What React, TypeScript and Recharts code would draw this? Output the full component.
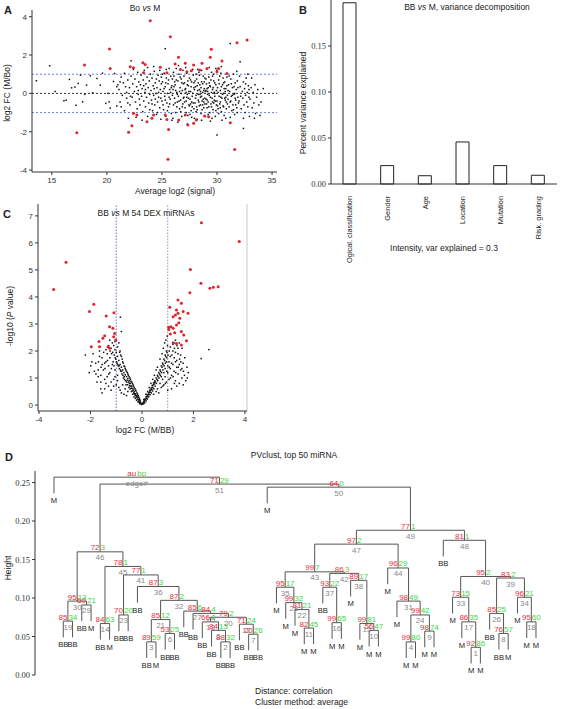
import React from "react";
import {
  ScatterChart, Scatter, XAxis, YAxis, ReferenceLine, BarChart, Bar,
} from "recharts";

// ---------- panel A: MA plot, Bo vs M ----------
const maBlack = [
  13.6, 0.66, 14.8, 1.44, 16.1, -0.38, 16.3, -0.35, 16.6, 0.73, 16.8, 0.29, 17.1, 0.33, 17.4, 0.52,
  17.6, 0.95, 17.8, -0.44, 18.0, -0.05, 18.15, 0.43, 18.5, 0.92, 18.7, 0.03, 19.1, 0.78, 19.4, 0.43,
  19.6, 1.05, 19.9, -0.52, 20.1, 0.0, 20.2, -0.44, 20.3, -0.77, 20.6, 0.62, 20.7, 1.04, 20.9, 0.35,
  20.9, -0.66, 21.0, 0.45, 17.2, -0.62, 15.3, 0.1,
  21.1, 0.2, 21.2, -0.45, 21.3, 0.85, 21.4, -0.1, 21.5, 0.55, 21.6, -0.9, 21.7, 0.35, 21.8, -0.25,
  21.9, 0.7, 21.95, -1.3, 21.3, -0.7, 21.6, 1.05, 21.8, 0.05, 21.2, 0.6, 21.9, -0.5,
  22.05, 0.3, 22.1, -0.6, 22.2, 1.7, 22.2, 0.9, 22.3, -0.2, 22.35, 0.5, 22.4, -1.05, 22.5, 0.1,
  22.55, 0.75, 22.6, -0.45, 22.7, 0.35, 22.75, -0.8, 22.8, 1.1, 22.85, -0.05, 22.9, 0.6, 22.95, -0.3,
  22.4, 1.25, 22.65, -1.25, 22.15, -0.15, 22.85, 0.15,
  23.0, -0.6, 23.05, 0.45, 23.1, 0.95, 23.15, -0.15, 23.2, 0.25, 23.25, -0.95, 23.3, 0.7, 23.35, -0.4,
  23.4, 1.2, 23.45, 0.05, 23.5, -0.7, 23.55, 0.5, 23.6, -0.2, 23.65, 0.85, 23.7, -1.2, 23.75, 0.3,
  23.8, -0.5, 23.85, 0.65, 23.9, -0.05, 23.95, 1.0, 23.2, -1.4, 23.5, 0.2, 23.7, 1.35, 23.9, -0.85, 23.35, 0.4,
  24.0, 0.15, 24.05, -0.35, 24.1, 0.8, 24.15, -0.9, 24.2, 0.4, 24.25, -0.1, 24.3, 1.15, 24.35, -0.6,
  24.4, 0.55, 24.45, 0.0, 24.5, -1.1, 24.55, 0.3, 24.6, -0.45, 24.65, 0.95, 24.7, -0.2, 24.75, 0.65,
  24.8, -0.75, 24.85, 0.2, 24.9, -1.35, 24.95, 0.5, 24.1, -0.55, 24.3, 0.25, 24.5, 0.75, 24.7, 0.05,
  24.9, -0.25, 24.25, 1.4, 24.6, -1.0, 24.8, 1.2, 24.4, -0.3, 24.95, 0.85,
  25.0, -0.4, 25.05, 0.6, 25.1, 0.1, 25.15, -0.85, 25.2, 1.05, 25.25, -0.15, 25.3, 0.35, 25.35, -1.2,
  25.4, 0.8, 25.45, -0.5, 25.5, 0.0, 25.3, 2.33, 25.55, 0.5, 25.6, -0.7, 25.65, 1.3, 25.7, 0.2,
  25.75, -0.3, 25.8, 0.9, 25.85, -1.05, 25.9, 0.4, 25.95, -0.1, 25.1, -0.6, 25.2, 0.25, 25.3, -0.35,
  25.4, 1.25, 25.5, -0.9, 25.6, 0.7, 25.7, -0.55, 25.8, 0.05, 25.9, -1.4, 25.05, 1.0, 25.35, 0.55,
  25.65, -0.2, 25.85, 0.3, 25.95, 0.75,
  26.0, 0.2, 26.05, -0.6, 26.1, 0.9, 26.15, -0.25, 26.2, 0.45, 26.25, -1.0, 26.3, 1.3, 26.35, 0.05,
  26.4, -0.45, 26.45, 0.65, 26.5, -0.15, 26.55, 1.0, 26.6, -0.8, 26.65, 0.3, 26.7, -0.35, 26.75, 0.75,
  26.8, -1.2, 26.85, 0.15, 26.9, -0.55, 26.95, 0.5, 26.0, -1.3, 26.1, 0.35, 26.2, -0.5, 26.3, 0.7,
  26.4, -0.05, 26.5, 1.45, 26.6, 0.1, 26.7, -0.95, 26.8, 0.55, 26.9, 1.2, 26.15, 0.6, 26.35, -0.7,
  26.55, -0.4, 26.75, 0.0, 26.95, -0.25, 26.05, 1.1, 26.45, -1.5, 26.65, 0.85, 26.85, -0.7, 26.25, 0.15,
  27.0, -0.2, 27.05, 0.55, 27.1, -0.75, 27.15, 0.25, 27.2, -0.4, 27.25, 1.05, 27.3, -0.05, 27.35, -1.15,
  27.4, 0.4, 27.45, -0.6, 27.5, 0.8, 27.55, -0.3, 27.6, 0.1, 27.65, -0.9, 27.7, 0.6, 27.75, -0.15,
  27.8, 1.25, 27.85, -0.5, 27.9, 0.3, 27.95, -1.3, 27.0, 0.9, 27.1, 0.2, 27.2, -1.0, 27.3, 0.45,
  27.4, -0.25, 27.5, -0.65, 27.6, 0.7, 27.7, -0.45, 27.8, 0.0, 27.9, -0.8, 27.05, -0.45, 27.15, 1.35,
  27.25, -0.2, 27.35, 0.65, 27.45, 0.1, 27.55, -1.1, 27.65, 0.35, 27.75, -0.7, 27.85, 0.95, 27.95, 0.2,
  27.3, -1.6, 27.6, -0.55, 27.9, 0.55, 27.2, 0.05, 27.7, -1.25,
  28.0, -0.5, 28.05, 0.35, 28.1, -0.1, 28.15, 0.75, 28.2, -0.85, 28.25, 0.15, 28.3, -0.35, 28.35, 1.1,
  28.4, -0.65, 28.45, 0.45, 28.5, -0.2, 28.55, -1.05, 28.6, 0.6, 28.65, -0.4, 28.7, 0.05, 28.75, 0.9,
  28.8, -0.75, 28.85, 0.25, 28.9, -0.25, 28.95, -1.2, 28.0, 0.65, 28.1, -0.95, 28.2, 0.4, 28.3, -0.05,
  28.4, 0.95, 28.5, -0.6, 28.6, -0.15, 28.7, 0.5, 28.8, -0.45, 28.9, 0.8, 28.05, -0.25, 28.15, -0.7,
  28.25, 1.25, 28.35, -0.45, 28.45, -0.05, 28.55, 0.3, 28.65, -0.85, 28.75, -0.3, 28.85, 0.6, 28.95, 0.1,
  28.2, -1.35, 28.4, 0.2, 28.6, 1.2, 28.8, 0.15, 28.3, 0.55, 28.5, 0.1, 28.7, -0.6, 28.9, -0.55,
  28.1, 1.0, 28.6, -1.4,
  29.0, -0.3, 29.05, 0.5, 29.1, -0.75, 29.15, 0.1, 29.2, -0.45, 29.25, 0.85, 29.3, -0.1, 29.35, -1.0,
  29.4, 0.35, 29.45, -0.55, 29.5, 1.1, 29.55, -0.25, 29.6, 0.2, 29.65, -0.85, 29.7, 0.65, 29.75, -0.35,
  29.8, 0.0, 29.85, -1.2, 29.9, 0.45, 29.95, -0.6, 29.0, 0.75, 29.1, 0.25, 29.2, -1.1, 29.3, 0.55,
  29.4, -0.2, 29.5, -0.7, 29.6, 0.9, 29.7, -0.5, 29.8, -0.15, 29.9, 1.3, 29.05, -0.55, 29.15, -0.05,
  29.25, -0.7, 29.35, 0.4, 29.45, 0.7, 29.55, -1.3, 29.65, 0.3, 29.75, 0.05, 29.85, -0.4, 29.95, 0.15,
  29.3, 1.35, 29.6, -0.45, 29.9, -0.9, 29.2, 0.3, 29.5, 0.05, 29.8, 0.55, 29.4, -1.45, 29.7, 1.0,
  29.1, -0.35, 29.0, 0.15,
  30.0, -0.4, 30.05, 0.3, 30.1, -0.8, 30.15, 0.7, 30.2, -0.15, 30.25, -0.55, 30.3, 0.15, 30.35, 1.05,
  30.4, -0.95, 30.45, -0.25, 30.5, 0.45, 30.55, -0.65, 30.6, 0.0, 30.65, -1.15, 30.7, 0.6, 30.75, -0.35,
  30.8, 0.25, 30.85, -0.8, 30.9, 0.85, 30.95, -0.1, 30.0, 1.2, 30.1, 0.05, 30.2, 0.5, 30.3, -0.45,
  30.4, 0.35, 30.5, -0.05, 30.6, -0.7, 30.7, -0.25, 30.8, -1.3, 30.9, 0.4, 30.15, -1.05, 30.35, -0.2,
  30.55, 0.8, 30.75, 0.1, 30.95, -0.55, 30.25, 0.9, 30.45, -1.4, 30.65, 0.25, 30.85, -0.45, 30.05, -0.65,
  30.0, -2.17, 30.4, 1.4, 30.6, 0.55, 30.8, -0.2, 30.3, -0.75,
  31.0, -0.3, 31.05, 0.45, 31.1, -0.7, 31.15, 0.1, 31.2, -0.45, 31.25, 0.75, 31.3, -0.15, 31.35, -0.9,
  31.4, 0.3, 31.45, -0.6, 31.5, 1.0, 31.55, -0.05, 31.6, -1.1, 31.65, 0.55, 31.7, -0.35, 31.75, 0.2,
  31.8, -0.75, 31.85, 0.65, 31.9, -0.2, 31.95, -0.5, 31.1, 0.9, 31.3, 0.5, 31.5, -0.85, 31.7, -0.6,
  31.9, 0.3, 31.2, -1.25, 31.4, -0.1, 31.6, 0.0, 31.8, 1.15, 31.2, 2.6, 31.0, 0.15, 31.25, -0.4,
  31.55, 0.35, 31.85, -1.0, 31.65, -0.25,
  32.0, -0.4, 32.1, 0.35, 32.2, -0.8, 32.1, 1.65, 32.3, 0.1, 32.35, -0.25, 32.4, 0.6, 32.45, -0.6,
  32.5, 0.25, 32.55, -1.0, 32.6, -0.1, 32.65, 0.8, 32.7, -0.45, 32.75, 0.05, 32.8, -0.7, 32.85, 0.4,
  32.9, -0.2, 32.95, -1.2, 32.05, 0.9, 32.15, -0.15, 32.4, -1.3, 32.6, 0.5, 32.8, 1.0, 32.4, -1.83, 32.9, 0.2,
  33.0, -0.3, 33.1, 0.3, 33.2, -0.75, 33.3, 0.05, 33.35, -0.5, 33.45, 0.45, 33.5, -1.05, 33.6, -0.2,
  33.7, 0.2, 33.8, -0.6, 34.0, -0.45, 34.2, 0.25, 33.15, 0.8, 33.9, -1.15, 33.4, -1.3,
];
const maRed = [
  23.94, 3.79, 25.76, 2.96, 32.73, 2.78, 31.82, 2.64, 20.24, 2.31, 29.48, 2.3, 17.97, 1.48, 23.27, 1.6,
  23.48, 1.51, 22.12, 1.39, 22.42, 1.34, 20.3, 1.3, 26.5, 1.88, 27.12, 1.57, 26.2, 1.53, 27.88, 1.48,
  28.64, 1.57, 29.39, 1.88, 30.45, 1.69, 28.42, 1.22, 26.67, 1.25, 27.27, 1.13, 27.67, 1.18, 25.45, 1.08,
  24.85, 1.36, 29.09, 1.3, 30.15, 1.3, 30.9, 1.04, 30.0, 1.13, 23.33, 1.08,
  17.27, -2.05, 21.97, -2.03, 22.27, -1.69, 22.73, -1.13, 22.42, -1.04, 23.64, -1.48, 24.09, -1.3,
  24.24, -1.13, 25.45, -1.36, 25.61, -1.88, 25.55, -3.44, 26.52, -1.39, 27.36, -1.65, 28.12, -1.39,
  27.88, -1.56, 28.88, -1.18, 29.24, -1.22, 31.21, -1.53, 31.61, -2.92, 27.12, -1.13, 25.3, -1.13,
];
const maXTicks = [15, 20, 25, 30, 35];
const maYTicks = [-4, -2, 0, 2, 4];

// ---------- panel B: variance decomposition ----------
const varNames = ["Ogical. classification", "Gender", "Age", "Location", "Mutation", "Risk. grading"];
const varValues = [0.197, 0.02, 0.009, 0.0457, 0.02, 0.0095];
const varTicks = [0, 0.05, 0.1, 0.15];

// ---------- panel C: volcano, BB vs M ----------
const volBlack = [
  -0.02, 0.02, -0.05, 0.08, -0.08, 0.12, -0.1, 0.2, -0.12, 0.15, -0.15, 0.28, -0.18, 0.22, -0.2, 0.35,
  -0.22, 0.3, -0.25, 0.42, -0.28, 0.38, -0.3, 0.5, -0.32, 0.45, -0.35, 0.6, -0.38, 0.52, -0.4, 0.7,
  -0.42, 0.62, -0.45, 0.8, -0.48, 0.72, -0.5, 0.9, -0.52, 0.85, -0.55, 0.98, -0.58, 0.92, -0.6, 1.05,
  -0.62, 0.75, -0.65, 1.12, -0.68, 0.95, -0.7, 1.2, -0.72, 1.0, -0.75, 1.3, -0.78, 1.15, -0.8, 1.4,
  -0.82, 1.25, -0.85, 1.5, -0.88, 1.35, -0.9, 1.65, -0.92, 1.45, -0.95, 1.8, -0.97, 1.55, -1.0, 1.95,
  -1.02, 1.7, -1.05, 2.05, -1.08, 1.85, -1.1, 2.2, -1.12, 1.6, -1.15, 2.3, -1.18, 1.9, -0.95, 2.15,
  -0.9, 2.3, -0.85, 2.0, -0.8, 1.8, -0.75, 1.6, -0.7, 1.45, -0.65, 1.35, -0.6, 1.25, -0.55, 1.15,
  -0.5, 1.05, -0.45, 0.95, -0.4, 0.85, -0.35, 0.75, -0.3, 0.65, -0.25, 0.55, -0.2, 0.45, -0.15, 0.35,
  -0.1, 0.25, -0.07, 0.18, -0.13, 0.3, -0.17, 0.4, -0.23, 0.52, -0.27, 0.6, -0.33, 0.7, -0.37, 0.8,
  -0.43, 0.88, -0.47, 1.0, -0.53, 1.1, -0.57, 1.2, -0.63, 1.3, -0.67, 1.42, -0.73, 1.55, -0.77, 1.7,
  -0.83, 1.85, -0.87, 1.95,
  -1.25, 1.2, -1.3, 1.45, -1.35, 1.05, -1.4, 1.6, -1.45, 0.95, -1.5, 1.3, -1.55, 1.75, -1.6, 1.1,
  -1.2, 0.85, -1.1, 0.95, -1.0, 0.75, -0.9, 0.65, -0.95, 1.1, -1.05, 1.3, -1.15, 1.5, -1.25, 1.75,
  -1.35, 1.9, -1.45, 1.55, -1.55, 1.5, -1.65, 1.8, -1.7, 1.3, -1.75, 0.85, -1.8, 1.55, -1.7, 1.05,
  -1.6, 0.6, -1.55, 0.45, -1.3, 0.7, -1.2, 0.55, -0.85, 0.55, -0.8, 0.45, -0.7, 0.4, -0.6, 0.35,
  -0.55, 0.5, -0.65, 0.6, -0.75, 0.75, -1.4, 2.05, -1.3, 2.2, -1.2, 2.1, -1.05, 2.35, -1.25, 2.4,
  -2.2, 1.85, -1.9, 1.9, -1.95, 1.6, -1.85, 1.25, -1.65, 2.0, -0.8, 2.72, -0.84, 3.25,
  -0.03, 0.05, -0.06, 0.1, -0.09, 0.05, -0.11, 0.1, -0.14, 0.2, -0.16, 0.12, -0.19, 0.3, -0.21, 0.18,
  -0.24, 0.35, -0.26, 0.25, -0.29, 0.42, -0.31, 0.3, -0.34, 0.55, -0.36, 0.4, -0.39, 0.62, -0.41, 0.5,
  -0.44, 0.7, -0.46, 0.6, -0.49, 0.8, -0.51, 0.65, -0.56, 0.75, -0.59, 0.85, -0.64, 0.9, -0.69, 1.05,
  -0.74, 1.1, -0.79, 1.25, -0.84, 1.3, -0.89, 1.45, -0.94, 1.5, -0.99, 1.6, -1.04, 1.75, -1.09, 1.45,
  -1.14, 1.95, -1.19, 1.35, -1.24, 2.0, -1.29, 1.15, -1.34, 1.65, -1.44, 1.35, -1.49, 1.95, -1.59, 1.4,
  -1.69, 1.6, -1.79, 1.15, -1.99, 1.45, -2.05, 1.2, -1.6, 0.85, -1.45, 0.6, -1.4, 0.8, -1.1, 0.7,
  -0.95, 0.9, -1.05, 1.05,
  0.02, 0.03, 0.05, 0.1, 0.08, 0.15, 0.1, 0.22, 0.12, 0.18, 0.15, 0.3, 0.18, 0.25, 0.2, 0.38,
  0.22, 0.32, 0.25, 0.45, 0.28, 0.4, 0.3, 0.55, 0.32, 0.48, 0.35, 0.62, 0.38, 0.58, 0.4, 0.72,
  0.42, 0.65, 0.45, 0.82, 0.48, 0.78, 0.5, 0.9, 0.52, 0.85, 0.55, 1.0, 0.58, 0.95, 0.6, 1.1,
  0.62, 1.05, 0.65, 1.2, 0.68, 1.15, 0.7, 1.3, 0.72, 1.25, 0.75, 1.45, 0.78, 1.4, 0.8, 1.55,
  0.82, 1.5, 0.85, 1.7, 0.88, 1.65, 0.9, 1.85, 0.92, 1.8, 0.95, 2.0, 0.97, 1.95, 0.99, 2.2,
  0.93, 2.4, 0.98, 2.55, 0.88, 2.3, 0.83, 2.1, 0.78, 1.9, 0.7, 1.7, 0.6, 1.4, 0.55, 1.3,
  0.48, 1.1, 0.42, 0.95, 0.35, 0.8, 0.28, 0.65, 0.22, 0.5, 0.15, 0.4, 0.07, 0.2,
  0.6, 0.6, 0.7, 0.8, 0.75, 0.65, 0.8, 0.95, 0.85, 0.75, 0.9, 1.05, 0.95, 0.85, 1.0, 1.2,
  1.05, 0.95, 1.1, 1.35, 1.15, 1.1, 1.2, 1.5, 1.25, 1.25, 1.3, 0.9, 1.35, 1.4, 1.4, 1.15,
  1.45, 0.8, 1.5, 1.3, 1.55, 1.0, 1.6, 0.75, 1.05, 1.6, 1.1, 1.8, 1.15, 1.55, 1.2, 2.0,
  1.25, 1.75, 1.3, 1.95, 1.35, 1.65, 1.4, 2.1, 1.45, 1.5, 1.0, 1.45, 0.9, 1.35, 0.95, 1.6,
  1.1, 2.15, 1.2, 2.25, 1.3, 2.4, 1.25, 2.3, 1.5, 1.85, 1.55, 1.35, 1.6, 1.55, 1.65, 1.1,
  1.7, 0.9, 1.35, 0.7, 1.15, 0.6, 1.0, 0.55, 0.65, 0.45, 0.55, 0.5, 0.45, 0.4, 1.4, 1.9,
  1.45, 2.3, 1.3, 1.6, 1.75, 1.4, 2.6, 2.05, 2.3, 1.72, 0.85, 1.2, 0.75, 1.05,
  0.03, 0.06, 0.06, 0.05, 0.09, 0.12, 0.11, 0.08, 0.14, 0.22, 0.16, 0.15, 0.19, 0.32, 0.21, 0.22,
  0.24, 0.38, 0.26, 0.3, 0.29, 0.48, 0.31, 0.38, 0.34, 0.55, 0.36, 0.45, 0.39, 0.65, 0.41, 0.52,
  0.44, 0.75, 0.46, 0.6, 0.49, 0.85, 0.51, 0.7, 0.56, 0.8, 0.61, 0.9, 0.66, 1.0, 0.71, 1.1,
  0.76, 1.2, 0.81, 1.3, 0.86, 1.45, 0.91, 1.55, 0.96, 1.75, 1.01, 1.85, 1.06, 2.0, 1.16, 1.85,
  1.26, 2.1, 1.36, 2.2, 1.46, 1.7, 1.56, 2.1, 1.66, 1.75, 1.21, 1.05, 1.31, 1.2, 1.41, 1.4,
  1.51, 1.6, 0.96, 1.25, 1.06, 1.4, 1.11, 1.0, 0.81, 0.7, 0.91, 0.8, 1.26, 0.8, 1.61, 1.25,
  1.76, 1.0, 1.8, 1.2,
];
const volRed = [
  2.31, 6.75, 3.78, 6.05, -2.95, 5.28, 1.88, 5.02, -3.43, 4.28, 2.29, 4.51, 2.64, 4.32, 2.77, 4.36,
  2.96, 4.38, 1.86, 4.16, -1.87, 3.73, -2.04, 3.46, -1.39, 3.3, -1.09, 3.42, -1.26, 2.9, -1.45, 2.56,
  -1.52, 2.47, -1.13, 2.84, -1.06, 2.65, -1.1, 2.53, -1.67, 2.35, -1.97, 2.16, -1.32, 2.16, -1.26, 2.1,
  -1.65, 2.16, -1.02, 2.41, 1.08, 3.62, 1.34, 3.52, 1.53, 3.77, 1.4, 3.89, 1.3, 3.33, 1.4, 3.4,
  1.47, 3.21, 1.21, 3.27, 1.6, 3.46, 1.79, 3.4, 1.04, 2.88, 1.12, 2.9, 1.21, 2.84, 1.43, 3.05,
  1.34, 2.96, 1.1, 2.63, 1.27, 2.68, 1.53, 2.72, 1.62, 2.59, 1.73, 2.38, 1.21, 2.31, 1.34, 2.28,
  1.53, 2.22, 1.04, 2.8,
];
const volXTicks = [-4, -2, 0, 2, 4];
const volYTicks = [0, 1, 2, 3, 4, 5, 6, 7];

// ---------- panel D: pvclust dendrogram ----------
const leafLabels = [
  "M", "BB", "BB", "BB", "M", "BB", "M", "BB", "BB", "BB", "BB", "M", "BB", "BB", "BB", "BB", "BB", "BB",
  "BB", "BB", "BB", "BB", "BB", "M", "M", "M", "M", "M", "M", "BB", "M", "M", "M", "M", "M", "M",
  "M", "M", "M", "M", "M", "M", "BB", "M", "M", "M", "M", "BB", "BB", "M", "M", "M", "M",
];
// hclust-style merges: negative = leaf number (1-based), positive = earlier edge
const mergeLeft = [
  -46, -19, -11, -39, -18, -13, -22, -49, -41, -35, -28, -21, -17, -6, -34, -31, -45, -52, -2, 13,
  3, -27, -8, 4, -16, -48, -15, -26, -4, 19, -38, 21, -44, -51, -25, -10, -30, -33, 26, 33,
  23, 37, 35, -37, 14, 30, 43, -43, 47, -24, 46, -1,
];
const mergeRight = [
  -47, -20, -12, -40, 2, -14, -23, -50, -42, -36, -29, 7, 5, -7, 10, -32, 1, -53, -3, 12,
  6, 11, -9, 9, 20, 8, 25, 22, -5, 29, 24, 27, 17, 18, 28, 32, 16, 15, 34, 39,
  36, 38, 42, 31, 41, 45, 44, 40, 48, 49, 50, 51,
];
const mergeHeight = [
  0.036, 0.043, 0.043, 0.043, 0.058, 0.054, 0.053, 0.054, 0.057, 0.058, 0.061, 0.066, 0.069, 0.067,
  0.067, 0.068, 0.069, 0.069, 0.07, 0.075, 0.072, 0.085, 0.078, 0.078, 0.08, 0.08, 0.083, 0.094,
  0.091, 0.096, 0.096, 0.097, 0.101, 0.101, 0.114, 0.115, 0.114, 0.123, 0.126, 0.128, 0.13, 0.132,
  0.134, 0.139, 0.141, 0.16, 0.17, 0.175, 0.188, 0.244, 0.248, 0.257,
];
const mergeAu = [
  92, 88, 89, 99, 84, 53, 20, 76, 98, 56, 82, 71, 66, 84, 99, 99, 86, 95, 85, 79,
  85, 81, 70, 99, 84, 85, 85, 99, 60, 95, 98, 87, 73, 96, 95, 87, 93, 89, 83, 95,
  77, 86, 99, 96, 78, 72, 97, 81, 77, 64, 71,
];
const mergeBp = [
  86, 32, 59, 80, 13, 25, 26, 57, 74, 47, 45, 24, 8, 63, 81, 65, 35, 60, 34, 2,
  12, 21, 20, 42, 4, 25, 6, 32, 21, 13, 49, 2, 15, 21, 17, 3, 22, 17, 2, 2,
  1, 3, 7, 29, 1, 3, 2, 1, 1, 0, 29,
];
const dendroTicks = [0, 0.05, 0.1, 0.15, 0.2, 0.25];
const HANG = 0.021;

const pairs = (flat: number[]) => {
  const out: { x: number; y: number }[] = [];
  for (let i = 0; i < flat.length; i += 2) out.push({ x: flat[i], y: flat[i + 1] });
  return out;
};

const maBlackPts = pairs(maBlack);
const maRedPts = pairs(maRed);
const volBlackPts = pairs(volBlack);
const volRedPts = pairs(volRed);
const varData = varNames.map((name, i) => ({ name, value: varValues[i] }));

// lay out the tree: leaf i sits at x = i, node x = mean of its children
type Seg = { x1: number; y1: number; x2: number; y2: number };
const segs: Seg[] = [];
const nodePts: any[] = [];
const leafPts: any[] = [];
const nodeX: number[] = [];
mergeLeft.forEach((l, k) => {
  const r = mergeRight[k];
  const h = mergeHeight[k];
  const side = (c: number) => {
    if (c < 0) {
      const x = -c - 1;
      leafPts.push({ x, y: h - HANG, label: leafLabels[x] });
      return { x, bottom: h - HANG };
    }
    return { x: nodeX[c - 1], bottom: mergeHeight[c - 1] };
  };
  const a = side(l);
  const b = side(r);
  nodeX.push((a.x + b.x) / 2);
  segs.push({ x1: a.x, y1: h, x2: b.x, y2: h });
  segs.push({ x1: a.x, y1: h, x2: a.x, y2: a.bottom });
  segs.push({ x1: b.x, y1: h, x2: b.x, y2: b.bottom });
  const isRoot = k === mergeLeft.length - 1;
  nodePts.push({ x: (a.x + b.x) / 2, y: h, au: mergeAu[k], bp: mergeBp[k], edge: k + 1, root: isRoot });
});

const SANS = "'Liberation Sans', Arial, sans-serif";
const SERIF = "'Liberation Serif', 'Times New Roman', serif";
const AU = "#ee2c3c";
const BP = "#3ad83a";

const blackDot = (p: any) => <rect x={p.cx - 0.75} y={p.cy - 0.75} width={1.5} height={1.5} fill="#111" />;
const redDot = (p: any) => <circle cx={p.cx} cy={p.cy} r={1.5} fill="#e0222c" />;

const NodeLabel = (p: any) => {
  const { cx, cy, payload } = p;
  const au = payload.root ? "au" : payload.au;
  const bp = payload.root ? "bp" : payload.bp;
  const edge = payload.root ? "edge#" : payload.edge;
  return (
    <g fontFamily={SANS} fontSize={8}>
      <text x={cx - 0.5} y={cy - 1.5} textAnchor="end" fill={AU}>{au}</text>
      <text x={cx + 0.5} y={cy - 1.5} textAnchor="start" fill={BP}>{bp}</text>
      <text x={cx} y={cy + 8.5} textAnchor="middle" fill="#888">{edge}</text>
    </g>
  );
};

const LeafLabel = (p: any) => (
  <text x={p.cx} y={p.cy + 10} textAnchor="middle" fontFamily={SANS} fontSize={7.6} fill="#222">
    {p.payload.label}
  </text>
);

const RotTick = (p: any) => {
  const { x, y, payload } = p;
  return (
    <text x={x} y={y + 4} dy="0.35em" textAnchor="end" transform={`rotate(-90 ${x} ${y + 4})`}
      fontFamily={SANS} fontSize={7.4} fill="#222">
      {payload.value}
    </text>
  );
};

const Txt = ({ x, y, size = 8.5, rotate = 0, bold = false, left = false, children }: any) => (
  <div style={{
    position: "absolute", left: x, top: y, whiteSpace: "nowrap",
    transform: `${left ? "translate(0,-50%)" : "translate(-50%,-50%)"} rotate(${rotate}deg)`,
    fontFamily: SANS, fontSize: size, fontWeight: bold ? 700 : 400, color: "#222", lineHeight: 1,
  }}>{children}</div>
);

const sansTick = { fontSize: 8, fill: "#333", fontFamily: SANS };
const serifTick = { fontSize: 8.5, fill: "#333", fontFamily: SERIF };
const axisLine = { stroke: "#333" };

export default function App() {
  return (
    <div style={{ position: "absolute", left: 0, top: 0, width: 569, height: 709, background: "#fff", overflow: "hidden" }}>
      {/* A */}
      <div style={{ position: "absolute", left: 0, top: 0 }}>
        <ScatterChart width={290} height={200} margin={{ top: 10, right: 13, bottom: 0, left: 0 }}>
          <XAxis type="number" dataKey="x" domain={[13.2, 35.45]} ticks={maXTicks} height={28}
            tick={sansTick} tickSize={3} axisLine={axisLine} tickLine={axisLine} />
          <YAxis type="number" dataKey="y" domain={[-4.1, 4.35]} ticks={maYTicks} width={32}
            tick={sansTick} tickSize={3} axisLine={axisLine} tickLine={axisLine} />
          <ReferenceLine y={1} stroke="#6f7fd6" strokeDasharray="2 2" />
          <ReferenceLine y={-1} stroke="#6f7fd6" strokeDasharray="2 2" />
          <ReferenceLine y={0} stroke="#333" strokeDasharray="2 2" />
          <Scatter data={maBlackPts} shape={blackDot} isAnimationActive={false} />
          <Scatter data={maRedPts} shape={redDot} isAnimationActive={false} />
        </ScatterChart>
      </div>
      <Txt x={8} y={10} size={11} bold>A</Txt>
      <Txt x={145} y={8}>Bo <i>vs</i> M</Txt>
      <Txt x={7} y={93} rotate={-90}>log2 FC (M/Bo)</Txt>
      <Txt x={175} y={191}>Average log2 (signal)</Txt>

      {/* B */}
      <div style={{ position: "absolute", left: 280, top: 0 }}>
        <BarChart width={289} height={290} data={varData} margin={{ top: 0, right: 12, bottom: 0, left: 0 }}>
          <XAxis dataKey="name" interval={0} height={106} tick={(p: any) => <RotTick {...p} />}
            tickLine={false} axisLine={axisLine} />
          <YAxis type="number" domain={[0, 0.2]} ticks={varTicks} width={51} tickFormatter={(v: number) => v.toFixed(2)}
            tick={serifTick} tickSize={3} axisLine={axisLine} tickLine={axisLine} />
          <Bar dataKey="value" fill="#fff" stroke="#222" strokeWidth={1} barSize={13} isAnimationActive={false} />
        </BarChart>
      </div>
      <Txt x={303} y={10} size={11} bold>B</Txt>
      <Txt x={467} y={7}>BB <i>vs</i> M, variance decomposition</Txt>
      <Txt x={303} y={103} rotate={-90}>Percent variance explained</Txt>
      <Txt x={444} y={248}>Intensity, var explained = 0.3</Txt>

      {/* C */}
      <div style={{ position: "absolute", left: 0, top: 200 }}>
        <ScatterChart width={260} height={240} margin={{ top: 4, right: 13, bottom: 0, left: 0 }}>
          <XAxis type="number" dataKey="x" domain={[-4.04, 4.08]} ticks={volXTicks} height={29}
            tick={sansTick} tickSize={3} axisLine={axisLine} tickLine={axisLine} />
          <YAxis type="number" dataKey="y" domain={[-0.22, 7.44]} ticks={volYTicks} width={38}
            tick={sansTick} tickSize={3} axisLine={axisLine} tickLine={axisLine} />
          <ReferenceLine x={4.08} stroke="#c8c8c8" />
          <ReferenceLine x={-1} stroke="#5f78c8" strokeDasharray="1.5 1.5" />
          <ReferenceLine x={1} stroke="#999" strokeDasharray="1.5 1.5" />
          <Scatter data={volBlackPts} shape={blackDot} isAnimationActive={false} />
          <Scatter data={volRedPts} shape={redDot} isAnimationActive={false} />
        </ScatterChart>
      </div>
      <Txt x={7} y={214} size={11} bold>C</Txt>
      <Txt x={146} y={213}>BB <i>vs</i> M 54 DEX miRNAs</Txt>
      <Txt x={10} y={316} rotate={-90}>-log10 (<i>P</i> value)</Txt>
      <Txt x={145} y={430}>log2 FC (M/BB)</Txt>

      {/* D */}
      <div style={{ position: "absolute", left: 0, top: 440 }}>
        <ScatterChart width={569} height={245} margin={{ top: 31, right: 9, bottom: 10, left: 0 }}>
          <XAxis type="number" dataKey="x" domain={[-2.05, 54.59]} hide />
          <YAxis type="number" dataKey="y" domain={[0, 0.265]} ticks={dendroTicks} width={35}
            tickFormatter={(v: number) => v.toFixed(2)} tick={serifTick} tickSize={3}
            axisLine={axisLine} tickLine={axisLine} />
          {segs.map((s, i) => (
            <ReferenceLine key={i} segment={[{ x: s.x1, y: s.y1 }, { x: s.x2, y: s.y2 }]}
              stroke="#555" strokeWidth={1} ifOverflow="visible" />
          ))}
          <Scatter data={leafPts} shape={LeafLabel} isAnimationActive={false} />
          <Scatter data={nodePts} shape={NodeLabel} isAnimationActive={false} />
        </ScatterChart>
      </div>
      <Txt x={9} y={457} size={11} bold>D</Txt>
      <Txt x={294} y={455}>PVclust, top 50 miRNA</Txt>
      <Txt x={8} y={568} rotate={-90}>Height</Txt>
      <Txt x={255} y={691} left>Distance: correlation</Txt>
      <Txt x={255} y={702} left>Cluster method: average</Txt>
    </div>
  );
}
